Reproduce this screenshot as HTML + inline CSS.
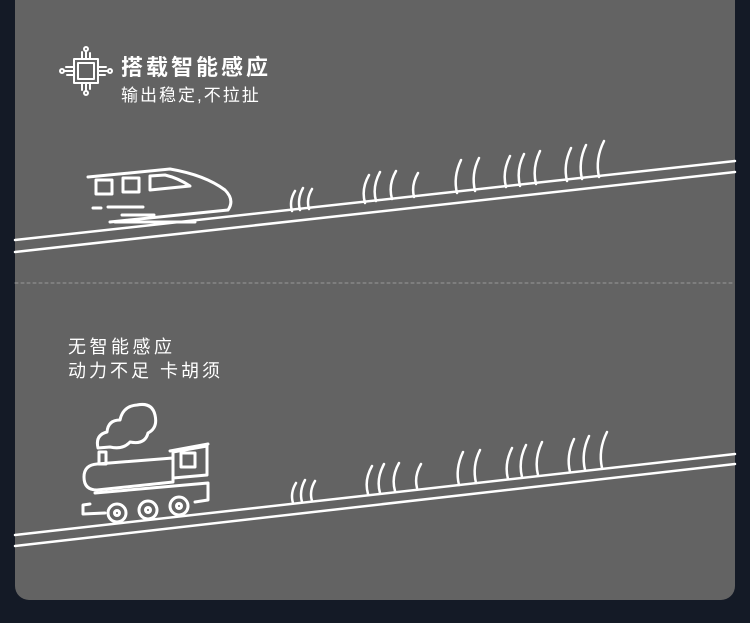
<!DOCTYPE html>
<html><head><meta charset="utf-8"><style>
body{margin:0;width:750px;height:623px;background:#141a26;overflow:hidden;font-family:"Liberation Sans","Noto Sans CJK SC",sans-serif}
.p{position:absolute;left:15px;top:0;width:720px;height:600px;background:#636363;border-radius:0 0 14px 14px}
.t{position:absolute;color:#fff;white-space:nowrap}
</style></head><body>
<div class="p"></div>
<div class="t" style="left:121px;top:50px;font-size:22px;font-weight:bold;letter-spacing:3px">搭载智能感应</div>
<div class="t" style="left:121px;top:81px;font-size:17px;letter-spacing:2px">输出稳定,不拉扯</div>
<div class="t" style="left:68px;top:333px;font-size:18px;letter-spacing:3.5px">无智能感应</div>
<div class="t" style="left:68px;top:357px;font-size:18px;letter-spacing:3px">动力不足 卡胡须</div>
<svg width="750" height="623" style="position:absolute;left:0;top:0" fill="none" stroke="#fff" stroke-linecap="round" stroke-linejoin="round">
<line x1="15" y1="283" x2="735" y2="283" stroke="#9a9a9a" stroke-width="1" stroke-dasharray="3 3"/>
<g stroke-width="2">
<rect x="78" y="63" width="16" height="16"/><rect x="74" y="59" width="24" height="24"/>
<path d="M82 59v-7M86 59v-8M90 59v-6M82 83v7M86 83v8M90 83v6M74 67h-8M74 71h-10M74 75h-7M98 67h8M98 71h10M98 75h7"/>
<circle cx="86" cy="49" r="2"/><circle cx="86" cy="93" r="2"/><circle cx="62" cy="71" r="2"/><circle cx="110" cy="71" r="2"/>
</g>
<g stroke-width="2.5">
<line x1="15" y1="240" x2="735" y2="161"/><line x1="15" y1="252" x2="735" y2="172"/>
<line x1="15" y1="535" x2="735" y2="454"/><line x1="15" y1="546" x2="735" y2="464"/>
</g>
<g stroke-width="3">
<path d="M88 177 L170 169 Q205 175 225 190 Q235 200 228 210 L110 222"/>
<rect x="96" y="180" width="16" height="14"/><rect x="123" y="178" width="16" height="14"/>
<path d="M150 176 L150 190 L190 186 Q178 178 165 175 Z"/>
<path d="M93 208h8M108 207h35M122 215h32M115 222h80"/>
</g>
<g stroke-width="3">
<path d="M98 448 Q95 435 107 432 Q108 420 120 420 Q123 406 137 405 Q152 402 155 415 Q158 428 148 433 Q145 445 130 442 Q123 450 110 447 Z"/>
<rect x="99" y="452" width="7" height="12"/>
<path d="M97 464 L173 458 L173 482 L97 490 Q84 490 84 477 Q84 465 97 464Z"/>
<path d="M173 452 L207 446 L207 475 L173 478Z"/><rect x="181" y="453" width="14" height="14"/>
<path d="M170 451 L208 444"/>
<path d="M95 493 L208 483 L208 500 L195 502 M90 504 L83 505 L83 514 L105 513"/>
<circle cx="117" cy="513" r="9"/><circle cx="148" cy="510" r="9"/><circle cx="179" cy="506" r="9"/>
<circle cx="117" cy="513" r="2.5"/><circle cx="148" cy="510" r="2.5"/><circle cx="179" cy="506" r="2.5"/>
</g>
<g stroke-width="2.5">
<path d="M292 211q-3-10 3-20M300 210q-3-11 3-22M309 209q-3-10 3-20"/>
<path d="M365 203q-4-14 4-28M376 201q-4-14 4-29M392 199q-4-14 4-28M414 197q-3-12 4-24"/>
<path d="M457 193q-4-16 4-33M475 191q-4-17 4-33"/>
<path d="M506 187q-4-15 4-31M520 186q-4-16 4-32M536 184q-4-16 4-33"/>
<path d="M567 181q-4-16 4-33M582 179q-4-17 4-34M599 177q-4-18 5-36"/>
<path d="M293 503q-3-10 3-20M302 502q-3-11 3-22M312 501q-3-10 3-20"/>
<path d="M368 494q-4-14 4-28M380 493q-4-14 4-29M395 491q-4-14 4-28M417 488q-3-12 4-24"/>
<path d="M459 485q-4-16 4-33M476 483q-4-17 4-33"/>
<path d="M508 479q-4-15 4-31M522 477q-4-16 4-32M538 475q-4-16 4-33"/>
<path d="M570 472q-4-16 4-33M585 470q-4-17 4-34M602 468q-4-18 5-36"/>
</g>
</svg>
</body></html>
